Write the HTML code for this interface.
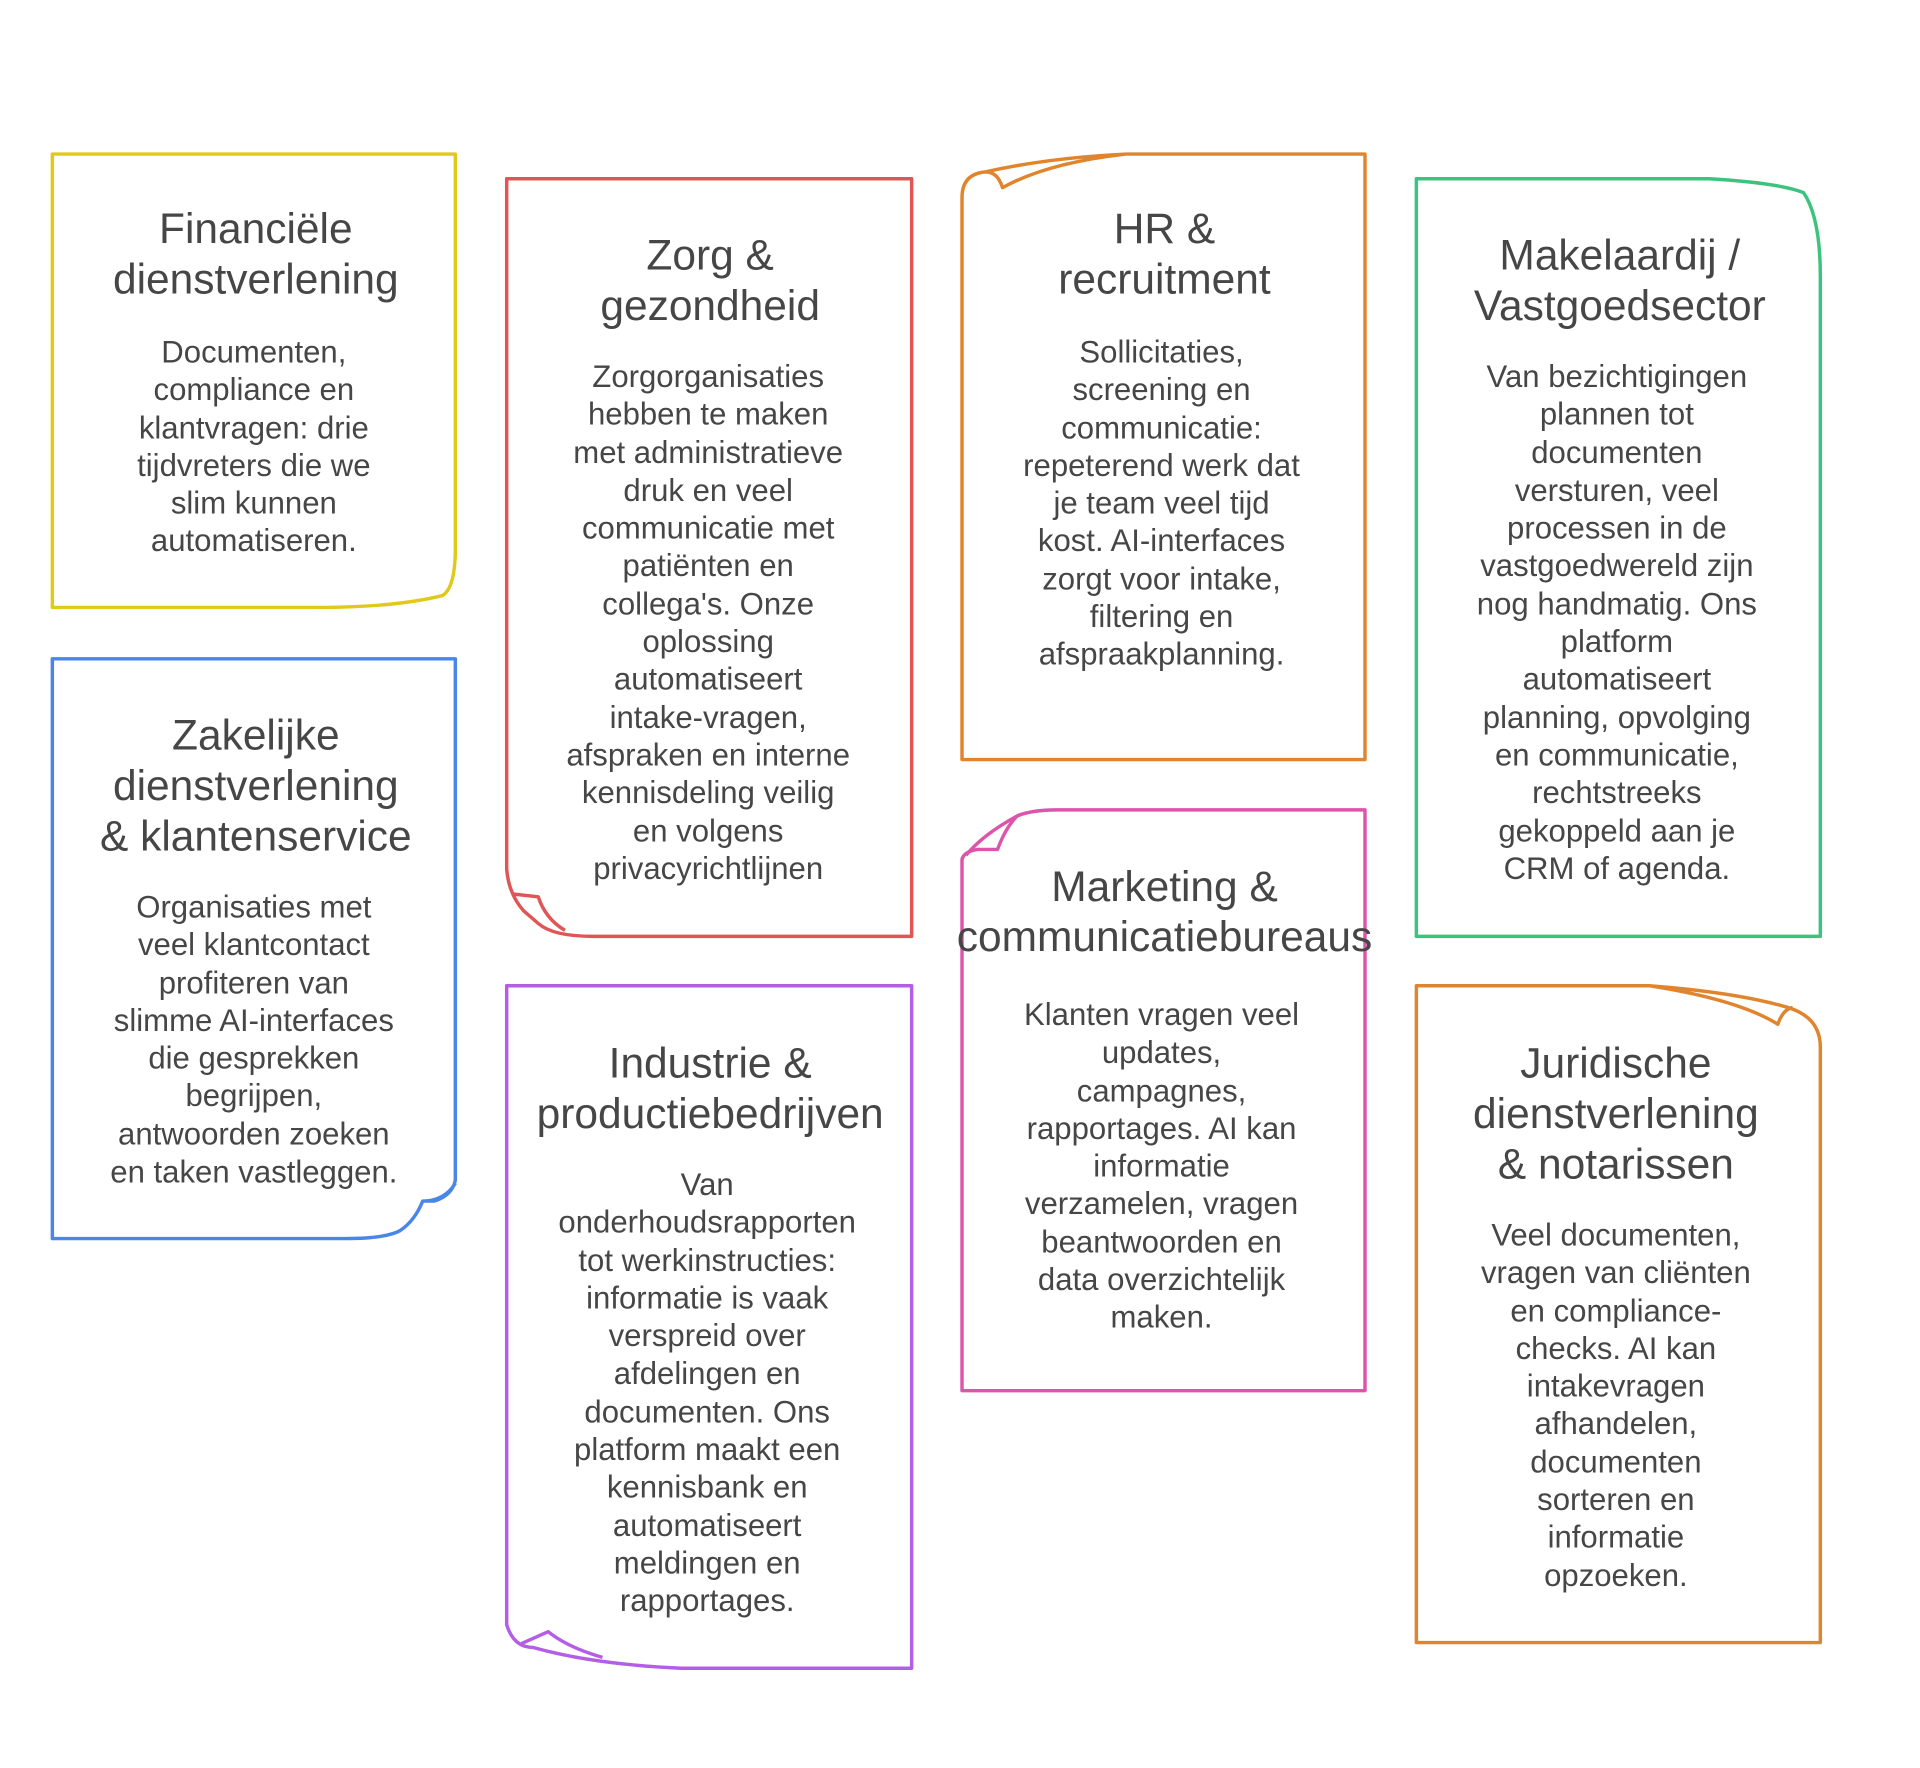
<!DOCTYPE html>
<html><head><meta charset="utf-8"><style>
html,body{margin:0;padding:0;background:#fff}
body{width:1920px;height:1768px;position:relative;overflow:hidden;font-family:"Liberation Sans",sans-serif;color:#464646}
#w{position:absolute;left:0;top:0;width:1920px;height:1768px;transform:scale(0.9877);transform-origin:0 0}
.t{position:absolute;width:600px;margin-left:-300px;text-align:center;font-size:43px;line-height:51px;white-space:nowrap}
.b{position:absolute;width:600px;margin-left:-300px;text-align:center;font-size:31.5px;line-height:38.3px;white-space:nowrap}
svg{position:absolute;left:0;top:0}
</style></head><body><div id="w">
<svg width="1920" height="1768" fill="none" stroke-width="3.5" stroke-linejoin="round">
<path stroke="#e0c918" d="M53,156 H461 V555 Q461,595 448,603 Q400,615 320,615 H53 Z"/>
<path stroke="#4a86e8" d="M53,667 H461 V1195 Q458,1210 440,1216 H428 Q420,1236 405,1246 Q390,1254 350,1254 H53 Z M461,1198 Q450,1216 428,1216"/>
<path stroke="#e05555" d="M513,181 H923 V948 H600 Q560,948 545,935 L530,922 Q515,905 513,880 Z M518,905 L545,908 Q552,930 572,942"/>
<path stroke="#b45ee8" d="M513,998 H923 V1689 H690 Q600,1685 540,1668 Q520,1668 513,1645 Z M528,1664 L555,1652 Q575,1668 610,1678"/>
<path stroke="#e0852e" d="M974,769 V200 Q974,176 998,174 Q1010,174 1015,190 Q1060,165 1140,156 H1382 V769 Z M998,174 Q1060,160 1140,156"/>
<path stroke="#dd55aa" d="M974,1408 V870 Q976,862 990,860 H1010 Q1018,838 1030,826 Q1045,820 1070,820 H1382 V1408 Z M978,866 Q995,845 1030,826"/>
<path stroke="#3cc47f" d="M1434,181 H1730 Q1800,185 1826,195 Q1843,220 1843,280 V948 H1434 Z"/>
<path stroke="#e0852e" d="M1434,1663 V998 H1670 Q1760,1005 1810,1020 Q1843,1030 1843,1060 V1663 Z M1670,998 Q1760,1012 1800,1037 Q1805,1022 1815,1020"/>
</svg>

<div class="t" style="left:259px;top:207px">Financiële<br>dienstverlening</div>
<div class="b" style="left:257px;top:337px">Documenten,<br>compliance en<br>klantvragen: drie<br>tijdvreters die we<br>slim kunnen<br>automatiseren.</div>

<div class="t" style="left:259px;top:720px">Zakelijke<br>dienstverlening<br>&amp; klantenservice</div>
<div class="b" style="left:257px;top:899px">Organisaties met<br>veel klantcontact<br>profiteren van<br>slimme AI-interfaces<br>die gesprekken<br>begrijpen,<br>antwoorden zoeken<br>en taken vastleggen.</div>

<div class="t" style="left:719px;top:234px">Zorg &amp;<br>gezondheid</div>
<div class="b" style="left:717px;top:362px">Zorgorganisaties<br>hebben te maken<br>met administratieve<br>druk en veel<br>communicatie met<br>patiënten en<br>collega's. Onze<br>oplossing<br>automatiseert<br>intake-vragen,<br>afspraken en interne<br>kennisdeling veilig<br>en volgens<br>privacyrichtlijnen</div>

<div class="t" style="left:719px;top:1052px">Industrie &amp;<br>productiebedrijven</div>
<div class="b" style="left:716px;top:1180px">Van<br>onderhoudsrapporten<br>tot werkinstructies:<br>informatie is vaak<br>verspreid over<br>afdelingen en<br>documenten. Ons<br>platform maakt een<br>kennisbank en<br>automatiseert<br>meldingen en<br>rapportages.</div>

<div class="t" style="left:1179px;top:207px">HR &amp;<br>recruitment</div>
<div class="b" style="left:1176px;top:337px">Sollicitaties,<br>screening en<br>communicatie:<br>repeterend werk dat<br>je team veel tijd<br>kost. AI-interfaces<br>zorgt voor intake,<br>filtering en<br>afspraakplanning.</div>

<div class="t" style="left:1179px;top:873px">Marketing &amp;<br>communicatiebureaus</div>
<div class="b" style="left:1176px;top:1008px">Klanten vragen veel<br>updates,<br>campagnes,<br>rapportages. AI kan<br>informatie<br>verzamelen, vragen<br>beantwoorden en<br>data overzichtelijk<br>maken.</div>

<div class="t" style="left:1640px;top:234px">Makelaardij /<br>Vastgoedsector</div>
<div class="b" style="left:1637px;top:362px">Van bezichtigingen<br>plannen tot<br>documenten<br>versturen, veel<br>processen in de<br>vastgoedwereld zijn<br>nog handmatig. Ons<br>platform<br>automatiseert<br>planning, opvolging<br>en communicatie,<br>rechtstreeks<br>gekoppeld aan je<br>CRM of agenda.</div>

<div class="t" style="left:1636px;top:1052px">Juridische<br>dienstverlening<br>&amp; notarissen</div>
<div class="b" style="left:1636px;top:1231px">Veel documenten,<br>vragen van cliënten<br>en compliance-<br>checks. AI kan<br>intakevragen<br>afhandelen,<br>documenten<br>sorteren en<br>informatie<br>opzoeken.</div>
</div></body></html>
